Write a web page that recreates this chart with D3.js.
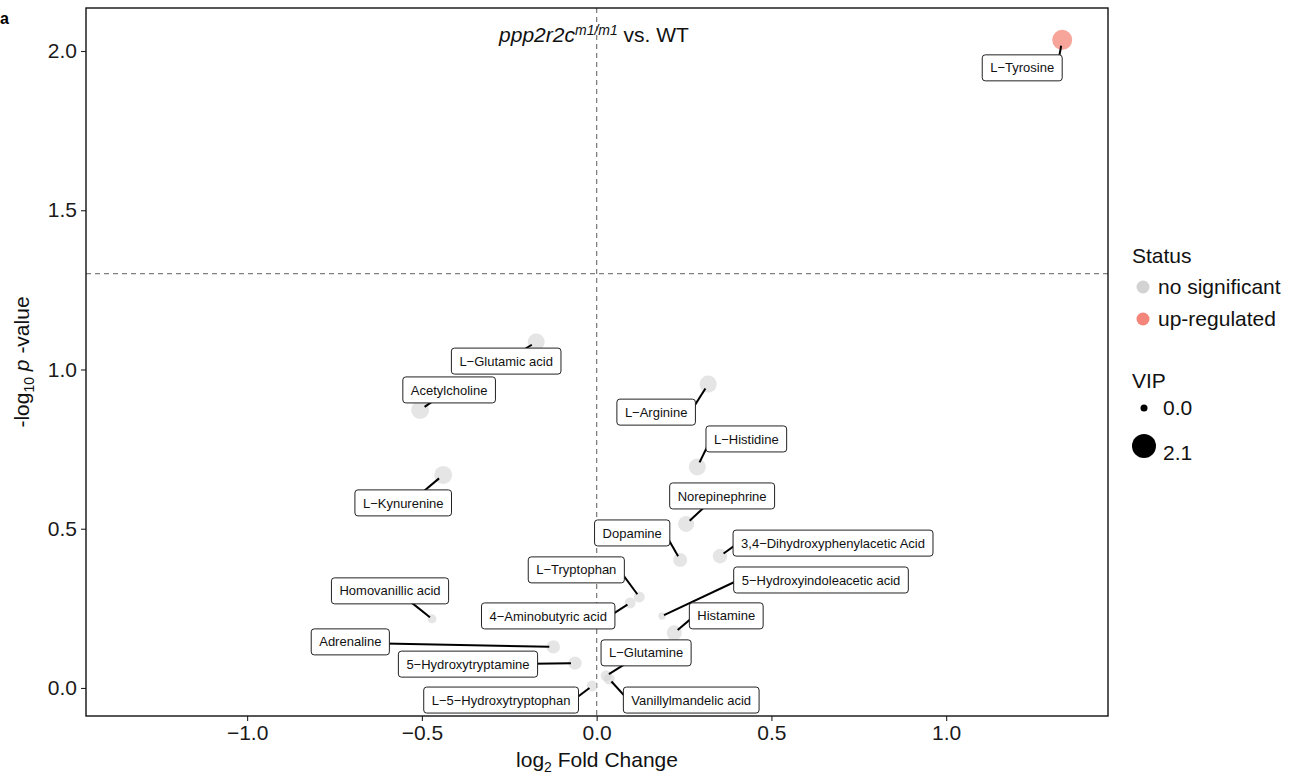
<!DOCTYPE html>
<html>
<head>
<meta charset="utf-8">
<script src="https://cdn.jsdelivr.net/npm/d3@7"></script>
<style>
  body { margin: 0; background: #fff; }
  svg, svg text { font-family: "Liberation Sans", Arial, Helvetica, sans-serif; }
</style>
</head>
<body>
<div id="container"></div>
<script>
// Metabolites (log2 fold change, -log10 p, VIP)
const metabolites = ['L−Tyrosine', 'L−Glutamic acid', 'Acetylcholine', 'L−Kynurenine', 'L−Arginine',
  'L−Histidine', 'Norepinephrine', 'Dopamine', '3,4−Dihydroxyphenylacetic Acid', '5−Hydroxyindoleacetic acid',
  'L−Tryptophan', '4−Aminobutyric acid', 'Histamine', 'Homovanillic acid', 'Adrenaline',
  '5−Hydroxytryptamine', 'L−Glutamine', 'Vanillylmandelic acid', 'L−5−Hydroxytryptophan']
const log2FC = [1.332, -0.173, -0.505, -0.439, 0.319, 0.288, 0.256, 0.239, 0.353, 0.187,
  0.122, 0.096, 0.222, -0.471, -0.124, -0.062, 0.027, 0.036, -0.013]
const negLogP = [2.035, 1.086, 0.873, 0.669, 0.954, 0.694, 0.515, 0.402, 0.414, 0.226,
  0.286, 0.267, 0.173, 0.217, 0.129, 0.078, 0.038, 0.028, 0.006]
const vip = [1.23, 0.73, 0.88, 0.88, 0.73, 0.73, 0.59, 0.36, 0.42, 0.001,
  0.116, 0.116, 0.465, 0.029, 0.297, 0.297, 0.116, 0.116, 0.116]
const status = ['up-regulated', 'no significant', 'no significant', 'no significant', 'no significant',
  'no significant', 'no significant', 'no significant', 'no significant', 'no significant',
  'no significant', 'no significant', 'no significant', 'no significant', 'no significant',
  'no significant', 'no significant', 'no significant', 'no significant']

const xTicks = [-1.0, -0.5, 0.0, 0.5, 1.0]
const yTicks = [0.0, 0.5, 1.0, 1.5, 2.0]
const statusLevels = ['no significant', 'up-regulated']
const vipBreaks = [0.0, 2.1]
const pCutoff = 0.05

// label layout (repelled box centre relative to point, px)
const labelDx = [-40, -30, 29, -40, -52, 49, 36, -48, 113, 159, -63, -82, 52, -42, -203, -107, 40, 82, -91]
const labelDy = [28, 19, -20, 28, 28, -28, -28, -27, -13, -36, -27, 13, -17, -28, -5, 1, -23, 21, 14]

const W = 1291, H = 777
const margin = { left: 86, right: 183, top: 8, bottom: 61 }
const width = W - margin.left - margin.right
const height = H - margin.top - margin.bottom
const FS = 21

const svg = d3.select('#container').append('svg').attr('width', W).attr('height', H)
const chart = svg.append('g').attr('transform', `translate(${margin.left}, ${margin.top})`)

const xScale = d3.scaleLinear().domain([-1.461, 1.463]).range([0, width])
const yScale = d3.scaleLinear().domain([-0.088, 2.135]).range([height, 0])
const rScale = d3.scaleSqrt().domain([0, 2.1]).range([3.5, 12])
const color = d3.scaleOrdinal().domain(statusLevels).range(['#d3d3d3', '#f4857a'])

const data = metabolites.map((m, i) => ({
  name: m, x: log2FC[i], y: negLogP[i], vip: vip[i], status: status[i], dx: labelDx[i], dy: labelDy[i]
}))

// axes
const xAxis = chart.append('g')
  .attr('transform', `translate(0, ${height})`)
  .call(d3.axisBottom(xScale).tickValues(xTicks).tickFormat(d3.format('.1f')).tickSize(5).tickPadding(4))
const yAxis = chart.append('g')
  .call(d3.axisLeft(yScale).tickValues(yTicks).tickFormat(d3.format('.1f')).tickSize(5).tickPadding(4))
;[xAxis, yAxis].forEach(a => {
  a.select('.domain').remove()
  a.selectAll('.tick line').attr('stroke', '#222').attr('stroke-width', 1.1)
  a.selectAll('.tick text').attr('fill', '#1a1a1a').attr('font-size', FS)
    .attr('font-family', '"Liberation Sans", Arial, sans-serif')
})

// dashed reference lines
chart.append('line')
  .attr('x1', xScale(0)).attr('x2', xScale(0)).attr('y1', 0).attr('y2', height)
  .attr('stroke', '#808080').attr('stroke-width', 1.3).attr('stroke-dasharray', '5,4')
chart.append('line')
  .attr('x1', 0).attr('x2', width).attr('y1', yScale(-Math.log10(pCutoff))).attr('y2', yScale(-Math.log10(pCutoff)))
  .attr('stroke', '#808080').attr('stroke-width', 1.3).attr('stroke-dasharray', '5,4')

// points
chart.selectAll('.pt').data(data).enter().append('circle')
  .attr('class', 'pt')
  .attr('cx', d => xScale(d.x))
  .attr('cy', d => yScale(d.y))
  .attr('r', d => rScale(d.vip))
  .attr('fill', d => color(d.status))
  .attr('fill-opacity', d => d.status === 'up-regulated' ? 0.75 : 0.6)

// labels with segments (ggrepel-like: clamp to inner text box, nudged toward centre)
const clamp = (v, a, b) => Math.max(a, Math.min(v, b))
const labels = chart.selectAll('.lab').data(data).enter().append('g').attr('class', 'lab')
labels.each(function (d) {
  const g = d3.select(this)
  const px = xScale(d.x), py = yScale(d.y)
  const cx = px + d.dx, cy = py + d.dy
  const t = g.append('text')
    .attr('x', cx).attr('y', cy + 4.6)
    .attr('text-anchor', 'middle')
    .attr('font-size', 13)
    .attr('fill', '#111')
    .text(d.name)
  const bw = t.node().getComputedTextLength() + 16
  const bh = 26
  const x0 = cx - bw / 2, y0 = cy - bh / 2
  const ins = 5
  const tx0 = x0 + ins, tx1 = x0 + bw - ins, ty0 = y0 + ins, ty1 = y0 + bh - ins
  const inX = px >= tx0 && px <= tx1, inY = py >= ty0 && py <= ty1
  let ex = clamp(px, tx0, tx1), ey = clamp(py, ty0, ty1)
  if (!inX && !inY) ey = cy
  else if (inX && !inY) ex = px + 0.6 * (cx - px)
  else if (!inX && inY) ey = py + 0.7 * (cy - py)
  const len = Math.hypot(ex - px, ey - py)
  const r = rScale(d.vip) * 0.6
  if (len > r) {
    g.insert('line', 'text')
      .attr('x1', px + (ex - px) * r / len).attr('y1', py + (ey - py) * r / len)
      .attr('x2', ex).attr('y2', ey)
      .attr('stroke', '#000').attr('stroke-width', 2)
  }
  g.insert('rect', 'text')
    .attr('x', x0).attr('y', y0).attr('width', bw).attr('height', bh)
    .attr('rx', 3).attr('fill', '#fff').attr('stroke', '#222').attr('stroke-width', 1)
})

// panel border
chart.append('rect')
  .attr('width', width).attr('height', height)
  .attr('fill', 'none').attr('stroke', '#111').attr('stroke-width', 1.4)

// title
const title = chart.append('text')
  .attr('x', width / 2 - 3).attr('y', 34)
  .attr('text-anchor', 'middle')
  .attr('font-size', FS).attr('fill', '#111')
title.append('tspan').attr('font-style', 'italic').text('ppp2r2c')
title.append('tspan').attr('font-style', 'italic').attr('font-size', 14).attr('dy', -7).text('m1/m1')
title.append('tspan').attr('dy', 7).text(' vs. WT')

// panel tag
svg.append('text').attr('x', 0).attr('y', 24).attr('font-size', 16).attr('font-weight', 'bold')
  .attr('fill', '#000').text('a')

// axis titles
const xt = svg.append('text')
  .attr('x', margin.left + width / 2).attr('y', 767)
  .attr('text-anchor', 'middle').attr('font-size', FS).attr('fill', '#111')
xt.append('tspan').text('log')
xt.append('tspan').attr('font-size', 14).attr('dy', 5).text('2')
xt.append('tspan').attr('dy', -5).text(' Fold Change')

const yt = svg.append('text')
  .attr('transform', `translate(29, ${margin.top + height / 2}) rotate(-90)`)
  .attr('text-anchor', 'middle').attr('font-size', FS).attr('fill', '#111')
yt.append('tspan').text('-log')
yt.append('tspan').attr('font-size', 14).attr('dy', 5).text('10')
yt.append('tspan').attr('dy', -5).text(' ')
yt.append('tspan').attr('font-style', 'italic').text('p')
yt.append('tspan').text(' -value')

// legends
const leg = svg.append('g').attr('transform', 'translate(1132, 0)')
leg.append('text').attr('x', 0).attr('y', 263).attr('font-size', FS).attr('fill', '#111').text('Status')
statusLevels.forEach((s, i) => {
  leg.append('circle').attr('cx', 11).attr('cy', 287 + i * 32).attr('r', 6.5).attr('fill', color(s))
  leg.append('text').attr('x', 26).attr('y', 294 + i * 32).attr('font-size', FS).attr('fill', '#111').text(s)
})
leg.append('text').attr('x', 0).attr('y', 388).attr('font-size', FS).attr('fill', '#111').text('VIP')
const vipY = [408, 446]
vipBreaks.forEach((v, i) => {
  leg.append('circle').attr('cx', 12).attr('cy', vipY[i]).attr('r', rScale(v)).attr('fill', '#000')
  leg.append('text').attr('x', 31).attr('y', vipY[i] + 7 + i * 7).attr('font-size', FS).attr('fill', '#111')
    .text(d3.format('.1f')(v))
})
</script>
</body>
</html>
